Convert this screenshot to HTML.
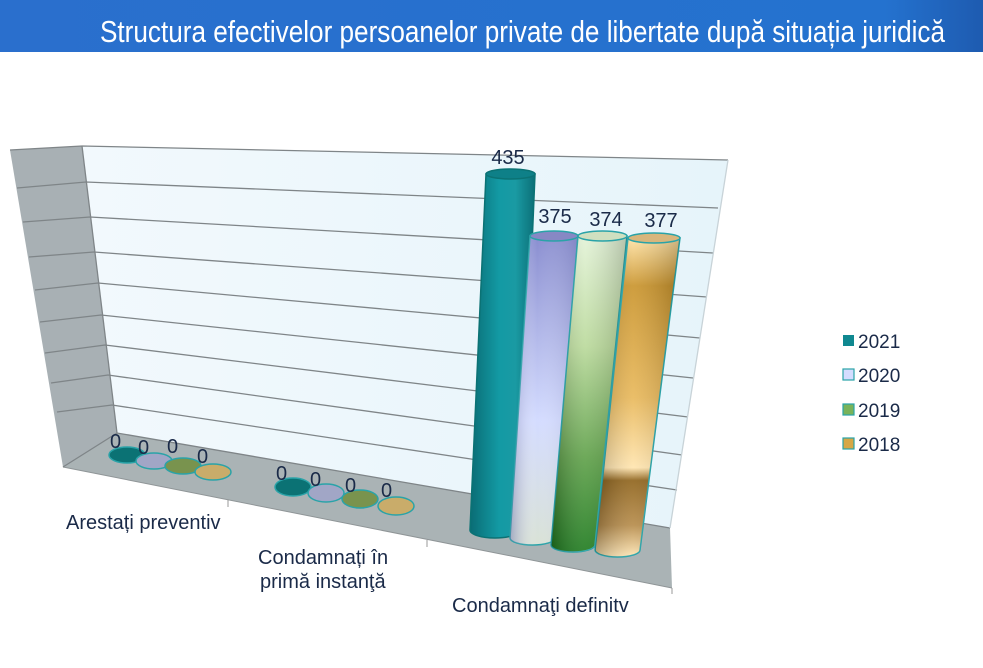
<!DOCTYPE html>
<html><head><meta charset="utf-8"><style>
html,body{margin:0;padding:0;background:#fff;width:983px;height:668px;overflow:hidden}
svg{display:block}
text{font-family:"Liberation Sans",Arial,sans-serif}
</style></head><body>
<svg width="983" height="668" viewBox="0 0 983 668" xmlns="http://www.w3.org/2000/svg">
<defs>
<linearGradient id="hdr" x1="0" x2="1" y1="0" y2="0"><stop offset="0" stop-color="#2a6fcd"/><stop offset="0.9" stop-color="#2472cf"/><stop offset="1" stop-color="#1e5bb0"/></linearGradient>
<linearGradient id="wall" x1="0" x2="1" y1="0" y2="0"><stop offset="0" stop-color="#f2f9fd"/><stop offset="1" stop-color="#e6f4fa"/></linearGradient>
<linearGradient id="g21" x1="0" x2="1"><stop offset="0" stop-color="#0a6c74"/><stop offset="0.45" stop-color="#139aa4"/><stop offset="0.7" stop-color="#1a9aa3"/><stop offset="1" stop-color="#0b6f77"/></linearGradient>
<linearGradient id="g20" x1="0" x2="0" y1="0" y2="1"><stop offset="0" stop-color="#8a8ed0"/><stop offset="0.6" stop-color="#d4dcff"/><stop offset="1" stop-color="#d9e2d6"/></linearGradient>
<linearGradient id="g20h" x1="0" x2="1"><stop offset="0" stop-color="#6a6fa8" stop-opacity="0.5"/><stop offset="0.4" stop-color="#fff" stop-opacity="0"/><stop offset="1" stop-color="#6a6fa8" stop-opacity="0.3"/></linearGradient>
<linearGradient id="g19" x1="0" x2="0" y1="0" y2="1"><stop offset="0" stop-color="#e3f3d7"/><stop offset="0.35" stop-color="#b9d99a"/><stop offset="0.7" stop-color="#5ea048"/><stop offset="1" stop-color="#1d7a1d"/></linearGradient>
<linearGradient id="g18" x1="0" x2="0" y1="0" y2="1"><stop offset="0" stop-color="#ffe2a4"/><stop offset="0.15" stop-color="#c9932a"/><stop offset="0.5" stop-color="#e8b758"/><stop offset="0.72" stop-color="#ffe4ad"/><stop offset="0.76" stop-color="#8e6219"/><stop offset="0.9" stop-color="#b58a48"/><stop offset="1" stop-color="#ffe6b4"/></linearGradient>
<linearGradient id="shade" x1="0" x2="1"><stop offset="0" stop-color="#000" stop-opacity="0.25"/><stop offset="0.45" stop-color="#fff" stop-opacity="0.1"/><stop offset="1" stop-color="#000" stop-opacity="0.2"/></linearGradient>
</defs>
<rect x="0" y="0" width="983" height="52" fill="url(#hdr)"/>
<text x="100" y="42" fill="#fff" font-size="31" textLength="845" lengthAdjust="spacingAndGlyphs">Structura efectivelor persoanelor private de libertate după situația juridică</text>

<polygon points="10,150 82,146 117,433 63,467" fill="#a8b0b4"/>
<polygon points="82,146 728,160 670,528 117,433" fill="url(#wall)"/>
<polygon points="117,433 670,528 672,588 63,467" fill="#aab3b5"/>
<line x1="63" y1="467" x2="672" y2="588" stroke="#8f9597" stroke-width="1"/>
<line x1="228" y1="500" x2="228" y2="507" stroke="#999"/>
<line x1="427" y1="540" x2="427" y2="547" stroke="#999"/>
<line x1="672" y1="588" x2="672" y2="594" stroke="#999"/>
<g stroke="#7f8588" stroke-width="1.3" fill="none">
<polyline points="10,150 82,146 728,160"/>
<polyline points="17,188 86,182 718,208"/>
<polyline points="23,222 90,217 713,253"/>
<polyline points="29,257 94,252 707,297"/>
<polyline points="35,290 98,283 700,338"/>
<polyline points="40,322 101,315 693,378"/>
<polyline points="45,353 105,345 688,417"/>
<polyline points="51,383 108,375 682,455"/>
<polyline points="57,412 112,405 677,490"/>
<polyline points="63,467 117,433 670,528"/>
<line x1="82" y1="146" x2="117" y2="433"/>
<line x1="728" y1="160" x2="670" y2="528" stroke="#c8d3d8"/>
</g>

<g stroke="#2aa3a8" stroke-width="1.5">
<ellipse cx="127" cy="455" rx="18" ry="8" fill="#0b7274"/>
<ellipse cx="154" cy="461" rx="18" ry="8" fill="#a1a6c6"/>
<ellipse cx="183" cy="466" rx="18" ry="8" fill="#79934e"/>
<ellipse cx="213" cy="472" rx="18" ry="8" fill="#c9ac6a"/>
<ellipse cx="293" cy="487" rx="18" ry="9" fill="#0b7274"/>
<ellipse cx="326" cy="493" rx="18" ry="9" fill="#a1a6c6"/>
<ellipse cx="360" cy="499" rx="18" ry="9" fill="#79934e"/>
<ellipse cx="396" cy="506" rx="18" ry="9" fill="#c9ac6a"/>
</g>
<g fill="#1a2a48" font-size="20">
<text x="110" y="448">0</text><text x="138" y="454">0</text><text x="167" y="453">0</text><text x="197" y="463">0</text>
<text x="276" y="480">0</text><text x="310" y="486">0</text><text x="345" y="492">0</text><text x="381" y="497">0</text>
</g>

<g stroke="#2aa3a8" stroke-width="1.5">
<path d="M486,174 L470,530 A25,8 0 0 0 520,530 L535,174 Z" fill="url(#g21)" stroke="#0b7274"/>
<ellipse cx="510.5" cy="174" rx="24.5" ry="5" fill="#0e8088" stroke="#0b7274"/>
<path d="M530,236 L510,538 A22.5,7 0 0 0 555,538 L578,236 Z" fill="url(#g20)"/>
<path d="M530,236 L510,538 A22.5,7 0 0 0 555,538 L578,236 Z" fill="url(#g20h)" stroke="none"/>
<ellipse cx="554" cy="236" rx="24" ry="5" fill="#8788c4"/>
<path d="M578,236 L551,545 A22,7 0 0 0 595,545 L627,236 Z" fill="url(#g19)"/>
<path d="M578,236 L551,545 A22,7 0 0 0 595,545 L627,236 Z" fill="url(#shade)" stroke="none"/>
<ellipse cx="602.5" cy="236" rx="24.5" ry="5" fill="#cfe0c0"/>
<path d="M628,238 L595,550 A22.5,7 0 0 0 640,550 L680,238 Z" fill="url(#g18)"/>
<path d="M628,238 L595,550 A22.5,7 0 0 0 640,550 L680,238 Z" fill="url(#shade)" stroke="none"/>
<ellipse cx="654" cy="238" rx="26" ry="5" fill="#d8b67c"/>
</g>
<g fill="#1a2a48" font-size="20" text-anchor="middle">
<text x="508" y="164">435</text><text x="555" y="223">375</text><text x="606" y="226">374</text><text x="661" y="227">377</text>
</g>

<g fill="#1a2a48" font-size="20">
<text x="66" y="529">Arestați preventiv</text>
<text x="258" y="564">Condamnați în</text>
<text x="260" y="588">primă instanţă</text>
<text x="452" y="612">Condamnaţi definitv</text>
</g>

<rect x="843" y="335" width="11" height="11" fill="#0f8890"/>
<rect x="843" y="369" width="11" height="11" fill="#d4dcff" stroke="#2aa3a8" stroke-width="1.2"/>
<rect x="843" y="404" width="11" height="11" fill="#79b35a" stroke="#2aa3a8" stroke-width="1.2"/>
<rect x="843" y="438" width="11" height="11" fill="#d6a745" stroke="#2aa3a8" stroke-width="1.2"/>
<g fill="#1a2a48" font-size="19">
<text x="858" y="348">2021</text><text x="858" y="382">2020</text><text x="858" y="417">2019</text><text x="858" y="451">2018</text>
</g>
</svg>
</body></html>
